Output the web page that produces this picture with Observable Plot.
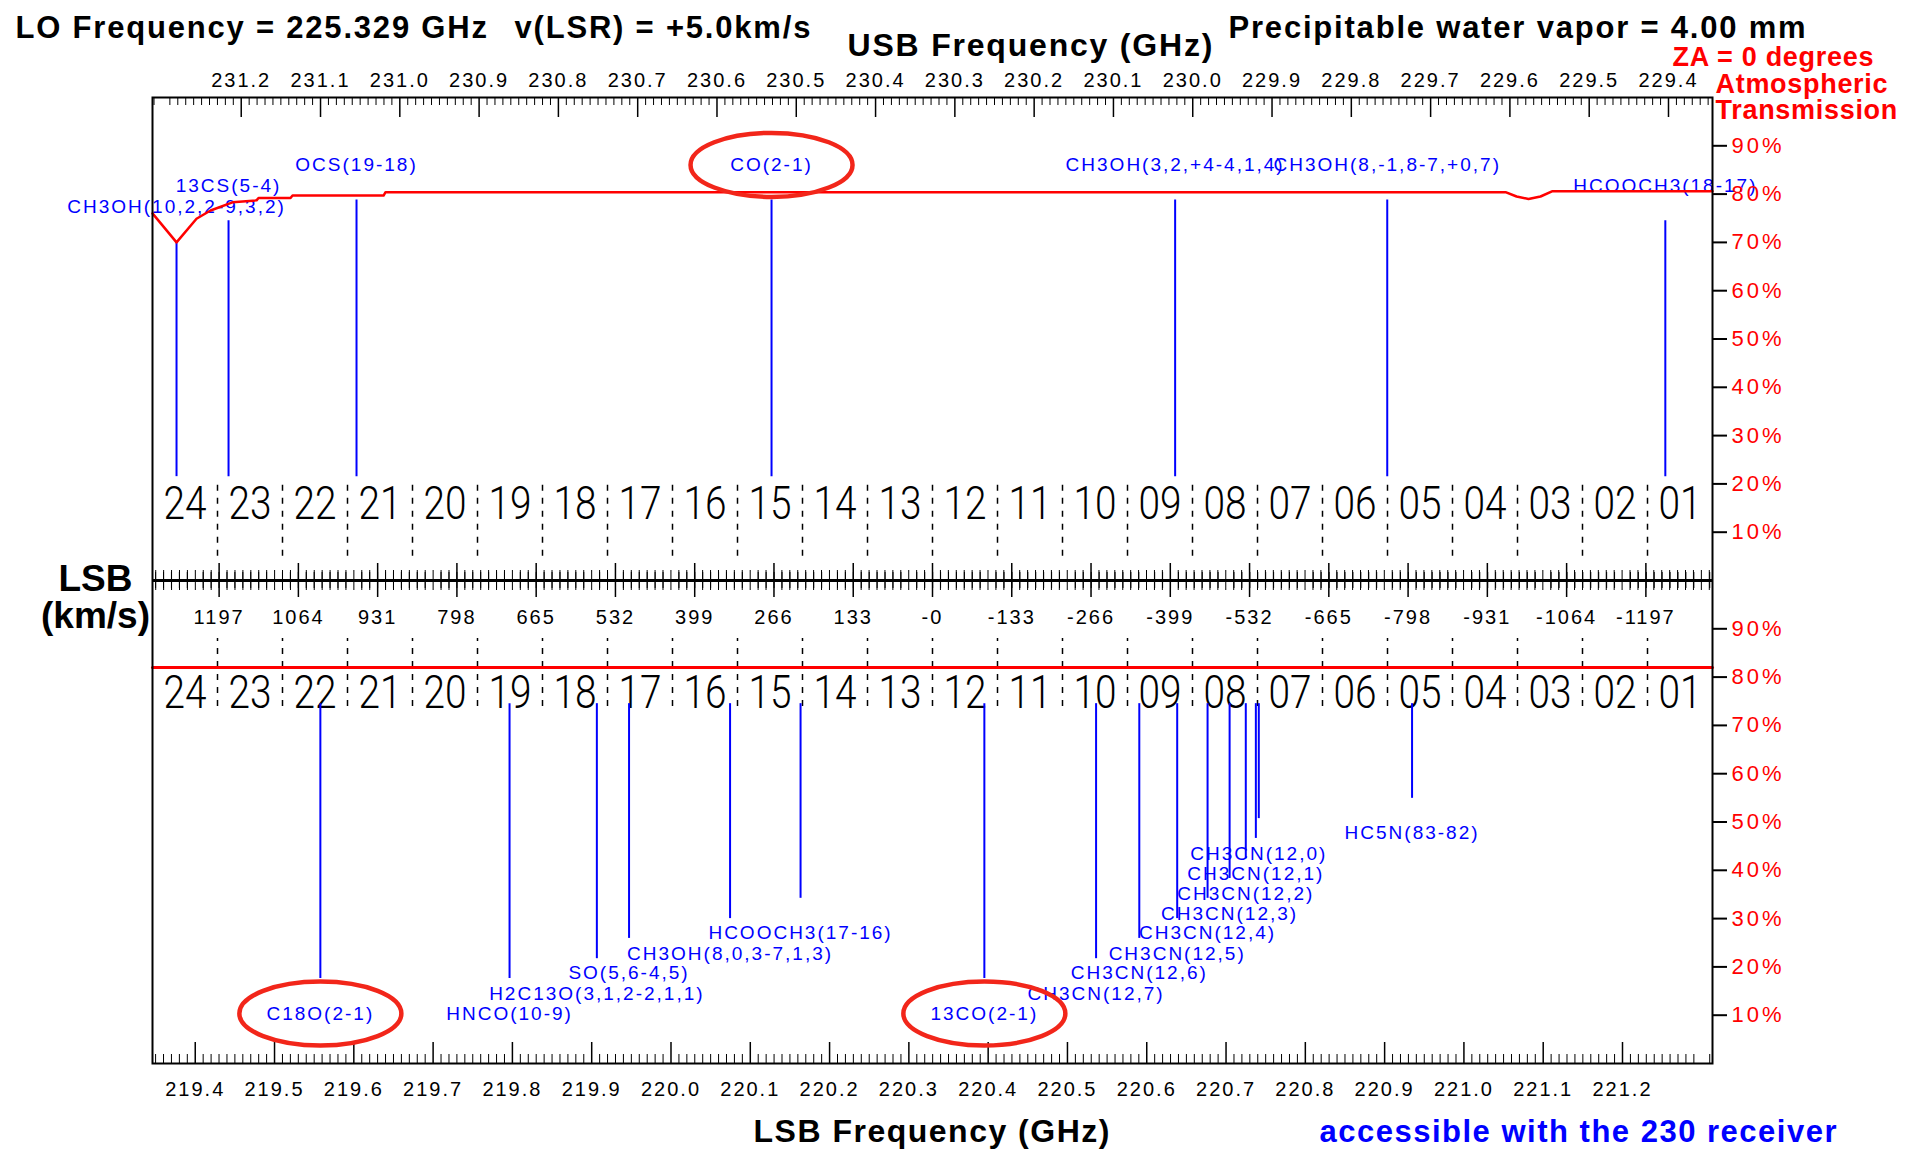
<!DOCTYPE html>
<html>
<head>
<meta charset="utf-8">
<script src="https://cdn.jsdelivr.net/npm/d3@7"></script>
<script src="https://cdn.jsdelivr.net/npm/@observablehq/plot@0.6"></script>
<style>
  body { margin: 0; background: #fff; }
  #chart svg { display: block; }
  g[aria-description="tick label"] text { letter-spacing: 2px; }
  g[aria-description="line label"] text { letter-spacing: 2px; }
  g[aria-label="y-axis tick label"] text { letter-spacing: 3px; }
  g[aria-description="heading"] text { letter-spacing: 1.8px; }
  g[aria-description="side note"] text { letter-spacing: 0.7px; }
  g[aria-description="footer"] text { letter-spacing: 1.5px; }
</style>
</head>
<body>
<div id="chart"></div>
<script>
// ---- Tuning of the receiver -------------------------------------------
const LO_GHZ = 225.329;          // local oscillator
const VLSR_KMS = 5.0;            // source velocity
const PWV_MM = 4.00;             // precipitable water vapour
const ZA_DEG = 0;                // zenith angle
const LSB_RANGE = [219.3461, 221.3135]; // lower sideband coverage (GHz)
const CHUNK_COUNT = 24;
const C_KMS = 299792.458;

// ---- Upper sideband lines (sky frequency, GHz) --------------------------
const usbLineNames  = ["CH3OH(10,2,2-9,3,2)", "13CS(5-4)", "OCS(19-18)", "CO(2-1)",
                       "CH3OH(3,2,+4-4,1,4)", "CH3OH(8,-1,8-7,+0,7)", "HCOOCH3(18-17)"];
const usbLineFreqs  = [231.2816, 231.2160, 231.0546, 230.5312, 230.0222, 229.7547, 229.4040];
const usbLineLevels = [70.0, 74.5, 78.8, 78.8, 78.8, 78.8, 74.5];   // % (top panel)

// ---- Lower sideband lines (sky frequency, GHz) --------------------------
const lsbLineNames  = ["C18O(2-1)", "HNCO(10-9)", "H2C13O(3,1,2-2,1,1)", "SO(5,6-4,5)",
                       "CH3OH(8,0,3-7,1,3)", "HCOOCH3(17-16)", "13CO(2-1)",
                       "CH3CN(12,7)", "CH3CN(12,6)", "CH3CN(12,5)", "CH3CN(12,4)",
                       "CH3CN(12,3)", "CH3CN(12,2)", "CH3CN(12,1)", "CH3CN(12,0)",
                       "HC5N(83-82)"];
const lsbLineFreqs  = [219.5578, 219.7964, 219.9065, 219.9471, 220.0745, 220.1634, 220.3952,
                       220.5361, 220.5906, 220.6384, 220.6767, 220.7045, 220.7249, 220.7376,
                       220.7413, 220.9346];
const lsbLineLevels = [17.6, 17.6, 21.7, 25.9, 30.0, 34.2, 17.6,
                       21.7, 25.9, 30.0, 34.2, 38.3, 42.4, 46.6, 50.7, 54.9]; // % (bottom panel)

// Lines singled out with a ring
const highlighted = ["CO(2-1)", "C18O(2-1)", "13CO(2-1)"];

// ---- Atmospheric transmission (%) ---------------------------------------
const usbTransFreqs = [231.3119, 231.2816, 231.2564, 231.2387, 231.2110, 231.1807, 231.1782,
                       231.1378, 231.1353, 231.0205, 231.0180, 229.6055, 229.5916, 229.5765,
                       229.5614, 229.5462, 229.3445];
const usbTrans      = [76.0, 70.0, 74.9, 76.6, 78.3, 78.7, 79.2,
                       79.2, 79.7, 79.7, 80.4, 80.4, 79.5, 79.0,
                       79.5, 80.6, 80.6];
const lsbTransFreqs = [219.3461, 219.8, 220.3, 220.8, 221.3135];
const lsbTrans      = [82.0, 82.0, 82.0, 82.0, 82.0];

// ---- Axis ticks -----------------------------------------------------------
const usbTickValues = [229.4, 229.5, 229.6, 229.7, 229.8, 229.9, 230.0, 230.1, 230.2, 230.3,
                       230.4, 230.5, 230.6, 230.7, 230.8, 230.9, 231.0, 231.1, 231.2];
const lsbTickValues = [219.4, 219.5, 219.6, 219.7, 219.8, 219.9, 220.0, 220.1, 220.2, 220.3,
                       220.4, 220.5, 220.6, 220.7, 220.8, 220.9, 221.0, 221.1, 221.2];
const velocityTicks = [1197, 1064, 931, 798, 665, 532, 399, 266, 133, 0,
                       -133, -266, -399, -532, -665, -798, -931, -1064, -1197];
const velocityTickLabels = ["1197", "1064", "931", "798", "665", "532", "399", "266", "133", "-0",
                            "-133", "-266", "-399", "-532", "-665", "-798", "-931", "-1064", "-1197"];
const percentTicks = [10, 20, 30, 40, 50, 60, 70, 80, 90];

// ---- Layout -------------------------------------------------------------
const W = 1914, H = 1152;
const M = {top: 97, right: 202, bottom: 89, left: 152};
// y runs 0..200: the lower panel is 0..100 %, the upper panel is 100 + (0..100 %)
const PX = (H - M.top - M.bottom) / 200;
const px = (n) => n / PX;
const TOP = (p) => 100 + p;

const usbToLsb = (f) => 2 * LO_GHZ - f;
const bandCenter = (LSB_RANGE[0] + LSB_RANGE[1]) / 2;
const velocityToLsb = (v) => bandCenter - (v / C_KMS) * LO_GHZ;

const usbLines = usbLineNames.map((name, i) => ({name, x: usbToLsb(usbLineFreqs[i]), level: usbLineLevels[i]}));
const lsbLines = lsbLineNames.map((name, i) => ({name, x: lsbLineFreqs[i], level: lsbLineLevels[i]}));
const usbTransPts = usbTransFreqs.map((f, i) => ({x: usbToLsb(f), t: usbTrans[i]}));
const lsbTransPts = lsbTransFreqs.map((f, i) => ({x: f, t: lsbTrans[i]}));

const chunkWidth = (LSB_RANGE[1] - LSB_RANGE[0]) / CHUNK_COUNT;
const chunks = d3.range(1, CHUNK_COUNT + 1).map((n) => ({
  label: String(n).padStart(2, "0"),
  center: LSB_RANGE[0] + (CHUNK_COUNT - n + 0.5) * chunkWidth
}));
const chunkEdges = d3.range(1, CHUNK_COUNT).map((k) => LSB_RANGE[0] + k * chunkWidth);

// minor ticks every 10 MHz and every tenth of the velocity step
const inRange = (x) => x >= LSB_RANGE[0] && x <= LSB_RANGE[1];
const lsbMinor = d3.range(Math.ceil(LSB_RANGE[0] * 100), Math.floor(LSB_RANGE[1] * 100) + 1)
  .filter((i) => i % 10 !== 0).map((i) => i / 100);
const usbMinor = d3.range(Math.ceil(usbToLsb(LSB_RANGE[1]) * 100), Math.floor(usbToLsb(LSB_RANGE[0]) * 100) + 1)
  .filter((i) => i % 10 !== 0).map((i) => i / 100);
const velMinor = d3.range(-100, 101).filter((k) => k % 10 !== 0)
  .map((k) => k * 13.3).filter((v) => inRange(velocityToLsb(v)));

// ring around a label
const ring = {
  draw(context) {
    const rx = 81, ry = 32, k = 0.5523;
    context.moveTo(rx, 0);
    context.bezierCurveTo(rx, ry * k, rx * k, ry, 0, ry);
    context.bezierCurveTo(-rx * k, ry, -rx, ry * k, -rx, 0);
    context.bezierCurveTo(-rx, -ry * k, -rx * k, -ry, 0, -ry);
    context.bezierCurveTo(rx * k, -ry, rx, -ry * k, rx, 0);
    context.closePath();
  }
};
const LABEL_GAP = px(35);
const rings = [
  ...usbLines.filter((d) => highlighted.includes(d.name)).map((d) => ({x: d.x, y: TOP(d.level) + LABEL_GAP})),
  ...lsbLines.filter((d) => highlighted.includes(d.name)).map((d) => ({x: d.x, y: d.level - LABEL_GAP}))
];

// free-standing headings, placed relative to the plot frame
const heading = (text, x, y, o = {}) => Plot.text([text], {
  frameAnchor: "top-left", dx: x - M.left, dy: y - M.top,
  lineAnchor: "bottom", textAnchor: "start", fontWeight: "bold", fontSize: 31,
  ariaDescription: "heading", ...o
});

const RED = "#ff0000", BLUE = "#0000ff", RING = "#f2261a";
const LIGHT = "Roboto, 'Liberation Sans', sans-serif";

const chart = Plot.plot({
  width: W, height: H,
  marginTop: M.top, marginRight: M.right, marginBottom: M.bottom, marginLeft: M.left,
  style: {fontFamily: "'Liberation Sans', Arial, sans-serif", background: "#fff"},
  x: {domain: LSB_RANGE, axis: null},
  y: {domain: [0, 200]},
  marks: [
    // chunk separators and chunk numbers
    Plot.ruleX(chunkEdges, {x: (d) => d, y1: TOP(5.0), y2: TOP(20.0), strokeDasharray: "6,7", strokeWidth: 1.5}),
    Plot.ruleX(chunkEdges, {x: (d) => d, y1: 73.9, y2: 88.0, strokeDasharray: "6,7", strokeWidth: 1.5}),
    Plot.text(chunks, {x: "center", y: TOP(15.8), text: "label", fontSize: 46, fontFamily: LIGHT,
      fontWeight: 300, ariaDescription: "chunk number"}),
    Plot.text(chunks, {x: "center", y: 76.7, text: "label", fontSize: 46, fontFamily: LIGHT,
      fontWeight: 300, ariaDescription: "chunk number"}),

    // upper sideband frequency axis (top edge)
    Plot.ruleX(usbMinor, {x: usbToLsb, y1: 200, y2: 200 - px(8)}),
    Plot.ruleX(usbTickValues, {x: usbToLsb, y1: 200, y2: 200 - px(20), strokeWidth: 1.5}),
    Plot.text(usbTickValues, {x: usbToLsb, y: 200, dy: -11, lineAnchor: "bottom",
      text: (d) => d.toFixed(1), fontSize: 20, ariaDescription: "tick label"}),

    // lower sideband frequency axis (bottom edge)
    Plot.ruleX(lsbMinor, {x: (d) => d, y1: 0, y2: px(9)}),
    Plot.ruleX(lsbTickValues, {x: (d) => d, y1: 0, y2: px(21), strokeWidth: 1.5}),
    Plot.text(lsbTickValues, {x: (d) => d, y: 0, dy: 32, lineAnchor: "bottom",
      text: (d) => d.toFixed(1), fontSize: 20, ariaDescription: "tick label"}),

    // velocity axis between the panels
    Plot.ruleY([100], {strokeWidth: 3}),
    Plot.ruleX(lsbMinor, {x: (d) => d, y1: 100 - px(8), y2: 100 + px(8)}),
    Plot.ruleX(velMinor, {x: velocityToLsb, y1: 100 - px(10), y2: 100 + px(10)}),
    Plot.ruleX(velocityTicks, {x: velocityToLsb, y1: 100 - px(17), y2: 100 + px(17), strokeWidth: 1.5}),
    Plot.text(velocityTicks, {x: velocityToLsb, y: 100, dy: 43, lineAnchor: "bottom",
      text: (d, i) => velocityTickLabels[i], fontSize: 20, ariaDescription: "tick label"}),

    // spectral lines
    Plot.ruleX(usbLines, {x: "x", y1: TOP(21.5), y2: (d) => TOP(d.level), stroke: BLUE, strokeWidth: 2}),
    Plot.text(usbLines, {x: "x", y: (d) => TOP(d.level) + LABEL_GAP, text: "name", fill: BLUE,
      fontSize: 19, ariaDescription: "line label"}),
    Plot.ruleX(lsbLines, {x: "x", y1: 74.5, y2: "level", stroke: BLUE, strokeWidth: 2}),
    Plot.text(lsbLines, {x: "x", y: (d) => d.level - LABEL_GAP, text: "name", fill: BLUE,
      fontSize: 19, ariaDescription: "line label"}),

    // atmospheric transmission
    Plot.line(usbTransPts, {x: "x", y: (d) => TOP(d.t), stroke: RED, strokeWidth: 2.5}),
    Plot.line(lsbTransPts, {x: "x", y: "t", stroke: RED, strokeWidth: 3}),

    Plot.dot(rings, {x: "x", y: "y", symbol: ring, fill: "none", stroke: RING, strokeWidth: 4.5}),

    Plot.frame({strokeWidth: 2}),

    // transmission scale on the right, one per panel
    Plot.axisY({anchor: "right", ticks: [...percentTicks, ...percentTicks.map(TOP)],
      tickFormat: (d) => `${d > 100 ? d - 100 : d}%`, tickSize: 14, tickPadding: 5,
      stroke: "black", strokeWidth: 2, fill: RED, fontSize: 22, label: null}),

    heading(`LO Frequency = ${LO_GHZ.toFixed(3)} GHz`, 15, 37),
    heading(`v(LSR) = +${VLSR_KMS.toFixed(1)}km/s`, 514, 37),
    heading("USB Frequency (GHz)", 847, 55, {fontSize: 32}),
    heading(`Precipitable water vapor = ${PWV_MM.toFixed(2)} mm`, 1228, 37),
    heading(`ZA = ${ZA_DEG} degrees`, 1672, 65, {fontSize: 27, fill: RED, ariaDescription: "side note"}),
    heading("Atmospheric", 1715, 92, {fontSize: 27, fill: RED, ariaDescription: "side note"}),
    heading("Transmission", 1715, 118, {fontSize: 27, fill: RED, ariaDescription: "side note"}),
    heading("LSB", 95, 590, {fontSize: 37, textAnchor: "middle", ariaDescription: "axis title"}),
    heading("(km/s)", 95, 627, {fontSize: 37, textAnchor: "middle", ariaDescription: "axis title"}),
    heading("LSB Frequency (GHz)", 753, 1141, {fontSize: 32, ariaDescription: "footer"}),
    heading("accessible with the 230 receiver", 1319, 1141, {fontSize: 31, fill: BLUE, ariaDescription: "footer"})
  ]
});

// the chunk numbers are set in a tall, condensed face
d3.select(chart).selectAll('g[aria-description="chunk number"] text')
  .attr("textLength", 43)
  .attr("lengthAdjust", "spacingAndGlyphs");

document.getElementById("chart").append(chart);
</script>
</body>
</html>
